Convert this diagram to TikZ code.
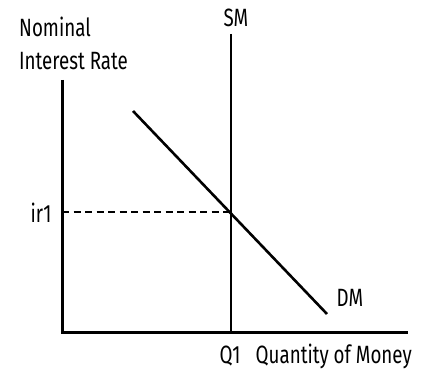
\documentclass[tikz,border=0pt]{standalone}
\usepackage{fontspec}
\setmainfont{Fira Sans}[FakeStretch=0.75]
\begin{document}
\begin{tikzpicture}[x=1pt,y=-1pt,
  lbl/.style={font=\fontsize{25}{30}\selectfont, inner sep=0pt},
  axis/.style={line width=3pt},
  curve/.style={line width=2.6pt},
  guide/.style={line width=2pt, dash pattern=on 7pt off 4.5pt}]
\useasboundingbox (0,0) rectangle (422,371);
\coordinate (ytop) at (62,80);
\coordinate (origin) at (62,332);
\coordinate (xend) at (408,332);
\coordinate (smtop) at (231,34);
\coordinate (smbot) at (231,332);
\coordinate (dmtop) at (133,111);
\coordinate (dmbot) at (327,314);
\coordinate (eq) at (231,212);
\coordinate (ir) at (62,212);
\draw[axis] (ytop) -- (origin) -- (xend);
\draw[curve] (smtop) -- (smbot);
\draw[curve] (dmtop) -- (dmbot);
\draw[guide] (ir) -- (eq);
\node[lbl, anchor=base west] (nom) at (19,37) {Nominal};
\node[lbl, anchor=base west] (ir2) at (19,70) {Interest Rate};
\node[lbl, anchor=base] (sm) at (236,27) {SM};
\node[lbl, anchor=base] (ir1) at (41,222) {ir1};
\node[lbl, anchor=base] (dm) at (350,306) {DM};
\node[lbl, anchor=base] (q1) at (230,363) {Q1};
\node[lbl, anchor=base east] (qm) at (412,363) {Quantity of Money};
\end{tikzpicture}
\end{document}
